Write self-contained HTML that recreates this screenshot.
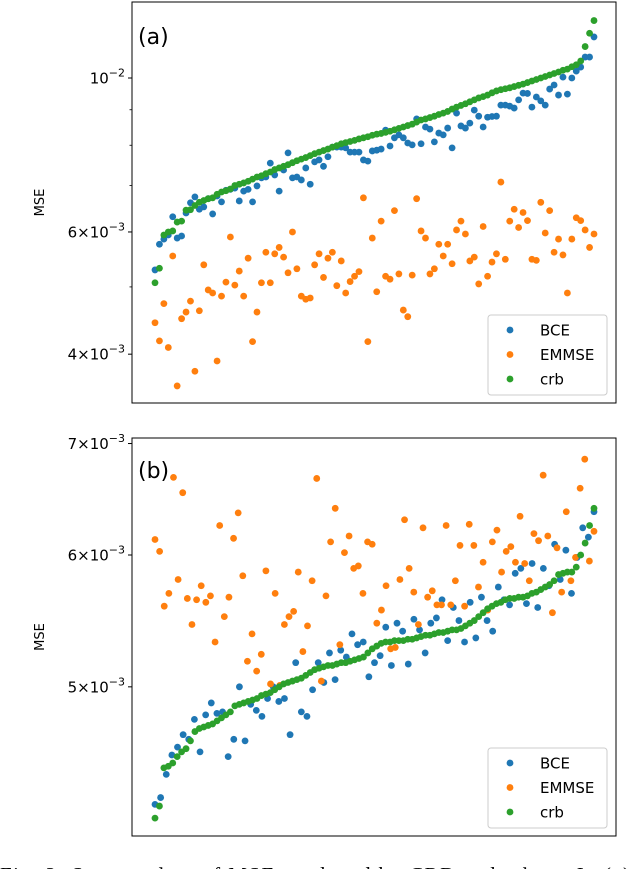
<!DOCTYPE html>
<html><head><meta charset="utf-8"><style>
html,body{margin:0;padding:0;background:#fff;}
svg{display:block;font-family:"DejaVu Sans","Liberation Sans",sans-serif;}
</style></head><body>
<svg id="fig" width="640" height="869" viewBox="0 0 640 869" xmlns="http://www.w3.org/2000/svg">
<rect x="0" y="0" width="640" height="869" fill="#fff"/>
<g id="panelA"></g>
<g id="panelB"></g>
<text x="0" y="882" font-family="Liberation Serif, serif" font-size="21" textLength="630" lengthAdjust="spacing" fill="#000">Fig. 2: Scatter plots of MSE produced by CRB and others. In (a)</text>
</svg>
<script>
// ---------- Panel (a) data (MSE in units of 1e-3) ----------
const crbA = [5.07,5.32,5.94,6.00,6.02,6.20,6.22,6.45,6.46,6.55,6.62,6.66,6.70,6.72,6.80,6.85,6.88,6.92,7.00,7.03,7.06,7.10,7.15,7.20,7.23,7.28,7.32,7.38,7.42,7.46,7.50,7.55,7.60,7.64,7.68,7.73,7.78,7.82,7.86,7.90,7.95,7.99,8.04,8.07,8.10,8.13,8.17,8.20,8.23,8.27,8.30,8.32,8.35,8.38,8.42,8.46,8.50,8.54,8.58,8.64,8.70,8.73,8.77,8.81,8.86,8.90,8.95,9.02,9.08,9.13,9.18,9.24,9.30,9.36,9.40,9.45,9.52,9.58,9.62,9.65,9.68,9.72,9.76,9.80,9.85,9.90,9.95,10.00,10.05,10.10,10.15,10.20,10.26,10.30,10.38,10.45,10.58,11.10,11.60,12.10];
const bceA = [5.29,5.76,5.86,5.94,6.31,5.88,5.92,6.39,6.61,6.74,6.47,6.52,6.70,6.37,6.76,6.63,6.89,6.91,6.94,6.65,6.87,6.91,6.63,6.99,7.18,7.20,7.54,7.25,6.87,7.37,7.80,7.18,7.20,7.13,7.42,7.03,7.57,7.62,7.46,7.70,7.95,7.95,7.95,7.93,7.82,7.82,7.82,7.62,7.59,7.85,7.87,7.90,8.41,7.98,8.20,8.28,8.20,8.06,8.01,8.73,8.04,8.50,8.44,8.09,8.33,8.28,8.47,7.93,8.90,8.53,8.47,8.61,8.99,8.81,8.50,8.78,8.80,8.81,9.14,9.14,9.11,9.05,9.30,9.51,9.50,9.08,9.39,9.27,9.14,9.64,9.77,9.45,10.03,9.48,10.00,10.23,10.37,10.72,10.72,11.46];
const emmseA = [4.44,4.18,4.73,4.09,5.54,3.60,4.50,4.60,4.77,3.78,4.62,5.38,4.95,4.90,3.91,4.85,5.08,5.90,5.03,5.27,4.85,5.50,4.17,4.60,5.07,5.61,5.07,5.58,5.70,5.52,5.24,6.00,5.31,4.85,4.80,4.82,5.38,5.58,5.16,5.50,5.61,5.02,5.45,4.90,5.09,5.18,5.26,6.72,4.17,5.88,4.92,6.22,5.18,5.13,6.44,5.22,4.63,4.53,5.20,6.70,6.02,5.88,5.22,5.31,5.76,5.54,5.76,5.40,6.04,6.22,5.96,5.45,5.52,5.05,6.11,5.18,5.43,5.58,7.08,5.48,6.22,6.47,6.09,6.40,6.23,5.48,5.46,6.62,5.98,6.44,5.61,5.86,5.56,4.90,5.86,6.29,6.23,6.04,5.70,5.96];
const ticksA = [{v:10,lab:"10",exp:"\u22122",pre:""},{v:6,lab:"10",exp:"\u22123",pre:"6\u00d7"},{v:4,lab:"10",exp:"\u22123",pre:"4\u00d7"}];
const minorA = [9,8,7,5];

// ---------- Panel (b) data ----------
const crbB = [4.17,4.24,4.47,4.48,4.50,4.54,4.57,4.59,4.64,4.70,4.72,4.73,4.74,4.75,4.77,4.79,4.81,4.83,4.87,4.88,4.89,4.90,4.91,4.92,4.94,4.95,4.96,4.98,5.00,5.02,5.03,5.04,5.05,5.06,5.08,5.10,5.12,5.13,5.14,5.15,5.15,5.16,5.17,5.17,5.18,5.19,5.20,5.21,5.24,5.27,5.29,5.31,5.32,5.32,5.33,5.33,5.33,5.34,5.34,5.35,5.36,5.37,5.37,5.38,5.39,5.39,5.40,5.41,5.41,5.42,5.44,5.46,5.48,5.51,5.54,5.57,5.59,5.61,5.62,5.64,5.65,5.65,5.66,5.66,5.67,5.69,5.70,5.72,5.74,5.76,5.79,5.84,5.85,5.86,5.86,5.90,6.00,6.10,6.25,6.40];
const bceB = [4.25,4.29,4.43,4.55,4.60,4.68,4.65,4.78,4.57,4.81,4.89,4.82,4.83,4.54,4.65,5.00,4.64,4.88,4.84,4.80,4.92,5.00,4.90,4.92,4.68,5.17,4.83,4.80,4.98,5.17,5.03,5.24,5.05,5.26,5.21,5.38,5.30,5.32,5.07,5.17,5.22,5.43,5.15,5.46,5.40,5.16,5.49,5.41,5.24,5.46,5.50,5.64,5.33,5.58,5.48,5.32,5.62,5.35,5.66,5.48,5.40,5.74,5.64,5.60,5.85,5.89,5.61,5.93,5.58,5.89,5.75,6.09,5.80,6.04,5.69,5.98,6.23,6.15,6.37];
const emmseB = [6.13,6.03,5.59,5.69,6.68,5.80,6.54,5.65,5.45,5.64,5.75,5.62,5.67,5.32,6.25,5.51,5.66,6.14,6.36,5.83,5.18,5.38,5.11,5.23,5.87,5.02,5.69,5.01,5.45,5.51,5.55,5.86,5.25,5.44,5.79,6.67,5.04,5.67,6.11,6.40,5.30,6.02,6.16,5.89,5.91,5.69,6.11,6.09,5.46,5.56,5.75,5.27,5.28,5.80,6.30,5.89,5.70,5.45,6.23,5.66,5.71,5.60,5.60,6.25,5.60,5.79,6.08,5.59,6.26,6.08,5.74,5.94,5.56,6.11,6.21,5.86,6.03,6.07,5.94,6.33,5.93,5.79,6.18,6.12,6.70,6.16,5.54,6.06,5.70,6.37,5.79,5.98,6.58,6.85,5.95,6.20];
const ticksB = [{v:7,lab:"10",exp:"\u22123",pre:"7\u00d7"},{v:6,lab:"10",exp:"\u22123",pre:"6\u00d7"},{v:5,lab:"10",exp:"\u22123",pre:"5\u00d7"}];
const minorB = [];

const seriesNames = ["BCE","EMMSE","crb"];
const colors = ["#1f77b4","#ff7f0e","#2ca02c"];
const NS = "http://www.w3.org/2000/svg";

function mk(parent, tag, attrs){
  const e = document.createElementNS(NS, tag);
  for (const k in attrs) e.setAttribute(k, attrs[k]);
  parent.appendChild(e);
  return e;
}

const X0 = 155, X1 = 594;
function xScale(i, n){ return X0 + (X1 - X0) * i / (n - 1); }
function makeY(refY, refV, pxPerDecade){ return v => refY - pxPerDecade * Math.log10(v / refV); }

function drawPanel(g, box, yF, ticks, minors, data, label, labelY, legendBox){
  const frame = mk(g, "rect", {x:box.l, y:box.t, width:box.r-box.l, height:box.b-box.t, fill:"none", stroke:"#000", "stroke-width":1});
  
  
  ticks.forEach(t => {
    const y = yF(t.v);
    const tk = mk(g, "line", {x1:box.l-4, x2:box.l, y1:y, y2:y, stroke:"#000", "stroke-width":1});
    
    
    const tx = mk(g, "text", {x:box.l-7, y:y+5.5, "text-anchor":"end", "font-size":"15", fill:"#000"});
    
    
    const t1 = mk(tx, "tspan", {});
    t1.textContent = t.pre + t.lab;
    const t2 = mk(tx, "tspan", {dy:"-7", "font-size":"11"});
    t2.textContent = t.exp;
  });
  minors.forEach(v => {
    const y = yF(v);
    const tk = mk(g, "line", {x1:box.l-2.5, x2:box.l, y1:y, y2:y, stroke:"#000", "stroke-width":0.8});
    
    
  });
  const cy = (box.t + box.b) / 2;
  const yl = mk(g, "text", {x:44, y:cy, "text-anchor":"middle", "font-size":"13", transform:"rotate(-90 44 "+cy+")", fill:"#000"});
  
  
  yl.textContent = "MSE";
  const pl = mk(g, "text", {x:138, y:labelY, "font-size":"22", fill:"#000"});
  
  
  pl.textContent = label;
  data.forEach((arr, s) => {
    const sg = mk(g, "g", {fill:colors[s]});
    
    
    arr.forEach((v, i) => {
      const c = mk(sg, "circle", {cx:xScale(i, arr.length), cy:yF(v), r:3.4});
      
      
    });
  });
  const lg = mk(g, "g", {});
  
  
  mk(lg, "rect", {x:legendBox.x, y:legendBox.y, width:119, height:80, rx:3, fill:"#fff", "fill-opacity":0.85, stroke:"#ccc", "stroke-width":1});
  seriesNames.forEach((n, s) => {
    const ey = legendBox.y + 15 + s * 24.5;
    const e = mk(lg, "g", {});
    
    
    mk(e, "circle", {cx:legendBox.x + 22, cy:ey, r:3.4, fill:colors[s]});
    const t = mk(e, "text", {x:legendBox.x + 52, y:ey + 5.5, "font-size":"15", fill:"#000"});
    t.textContent = n;
  });
}

drawPanel(document.getElementById("panelA"), {l:132, r:616, t:2, b:403},
  makeY(78, 10, 694), ticksA, minorA, [bceA, emmseA, crbA], "(a)", 44, {x:488, y:315});
drawPanel(document.getElementById("panelB"), {l:132, r:616, t:438, b:836},
  makeY(555, 6, 1665), ticksB, minorB, [bceB, emmseB, crbB], "(b)", 478, {x:488, y:748});
</script>
</body></html>
